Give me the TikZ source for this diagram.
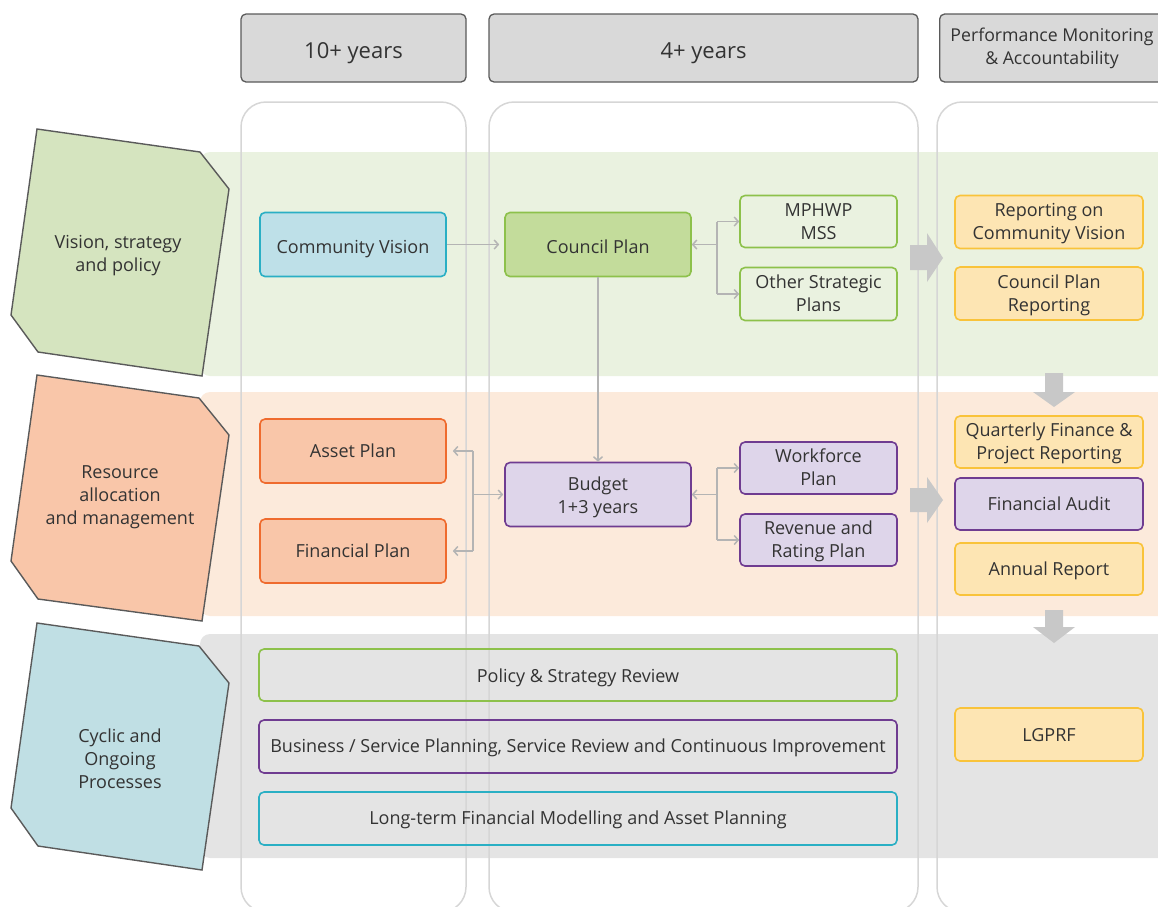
\documentclass[tikz,border=0pt]{standalone}
\usepackage{fontspec}
\setmainfont{Open Sans}
\usetikzlibrary{arrows.meta}
\definecolor{bandgreen}{HTML}{EAF2E0}
\definecolor{bandorange}{HTML}{FCEADB}
\definecolor{bandgray}{HTML}{E4E4E4}
\definecolor{hdrfill}{HTML}{D9D9D9}
\definecolor{hdrdraw}{HTML}{5A5A5A}
\definecolor{polygreen}{HTML}{D5E4BF}
\definecolor{polyorange}{HTML}{F9C6A9}
\definecolor{polyblue}{HTML}{C0DFE4}
\definecolor{cvfill}{HTML}{BEE0E8}
\definecolor{cvdraw}{HTML}{2AAFC4}
\definecolor{gfill}{HTML}{C3DC9B}
\definecolor{gdraw}{HTML}{8DC14B}
\definecolor{odraw}{HTML}{EF6B2E}
\definecolor{ofill}{HTML}{F9C6A9}
\definecolor{pdraw}{HTML}{6F3C91}
\definecolor{pfill}{HTML}{DED5EA}
\definecolor{ydraw}{HTML}{F9C33A}
\definecolor{yfill}{HTML}{FDE5B3}
\definecolor{coldraw}{HTML}{D6D6D6}
\definecolor{conn}{HTML}{B4B4B4}
\definecolor{bigarrow}{HTML}{C8C8C8}
\definecolor{txt}{HTML}{333333}
\tikzset{
  txtstyle/.style={text=txt, font=\fontsize{18}{23}\selectfont, align=center, inner sep=0pt},
  tshift/.style={execute at begin node={\rule[-5pt]{0pt}{#1}}},
  box/.style={txtstyle, rounded corners=5pt, line width=1.6pt, tshift=22.9pt},
  twoline/.style={tshift=45.5pt},
  hdr/.style={rounded corners=5pt, draw=hdrdraw, fill=hdrfill, line width=1.3pt, text=txt, align=center, inner sep=0pt},
  col/.style={draw=coldraw, line width=1.5pt, rounded corners=25pt},
  band/.style={rounded corners=10pt},
  lpoly/.style={draw=hdrdraw, line width=1.4pt},
  cn/.style={draw=conn, line width=1.5pt},
  cnarrow/.style={cn, -{Straight Barb[length=4pt,width=9pt,line width=1.5pt]}},
  fat/.style={fill=bigarrow, draw=none},
}
\begin{document}
\begin{tikzpicture}[x=1pt,y=-1pt]
\useasboundingbox (0,0) rectangle (1158,906);
\clip (0,0) rectangle (1158,906);
% bands
\fill[band, bandgreen] (200,152) rectangle (1175,376);
\fill[band, bandorange] (200,392) rectangle (1175,616);
\fill[band, bandgray] (200,634) rectangle (1175,858);
% columns
\draw[col] (241,102) rectangle (466,912);
\draw[col] (489,102) rectangle (918,912);
\draw[col] (937,102) rectangle (1180,912);
% headers
\node[hdr, minimum width=225pt, minimum height=68pt, font=\fontsize{22}{26}\selectfont, execute at begin node={\rule{0pt}{26pt}}] (h1) at (353.5,48) {10+ years};
\node[hdr, minimum width=429pt, minimum height=68pt, font=\fontsize{22}{26}\selectfont, execute at begin node={\rule{0pt}{26pt}}] (h2) at (703.5,48) {4+ years};
\node[hdr, minimum width=240pt, minimum height=68pt, anchor=west] (h3) at (939,48) {};
\node[txtstyle, font=\fontsize{17.7}{23}\selectfont] (h3t) at (1052,48.5) {Performance Monitoring\\\& Accountability};
% left polygons
\draw[lpoly, fill=polygreen] (37,129) -- (200,152) -- (229,189) -- (202,376) -- (38,352) -- (11,315) -- cycle;
\node[txtstyle] (lv) at (118,256) {Vision, strategy\\and policy};
\draw[lpoly, fill=polyorange] (37,375) -- (199,398) -- (229,435) -- (202,621) -- (38,599) -- (11,561) -- cycle;
\node[txtstyle] (lr) at (120,497) {Resource\\allocation\\and management};
\draw[lpoly, fill=polyblue] (37,623) -- (199,646) -- (229,683) -- (202,870) -- (38,846) -- (11,808) -- cycle;
\node[txtstyle] (lc) at (120,759) {Cyclic and\\Ongoing\\Processes};
% row 1
\node[box, tshift=27.9pt, draw=cvdraw, fill=cvfill, minimum width=186pt, minimum height=64pt] (cv) at (353,244.5) {Community Vision};
\node[box, tshift=27.9pt, draw=gdraw, fill=gfill, minimum width=186pt, minimum height=64pt] (cp) at (598,244.5) {Council Plan};
\node[box, twoline, draw=gdraw, fill=bandgreen, minimum width=157pt, minimum height=52pt] (mp) at (818.5,221.5) {MPHWP\\MSS};
\node[box, twoline, draw=gdraw, fill=bandgreen, minimum width=157pt, minimum height=53pt] (osp) at (818.5,294) {Other Strategic\\Plans};
\node[box, twoline, draw=ydraw, fill=yfill, minimum width=188pt, minimum height=53pt] (rcv) at (1049,222) {Reporting on\\Community Vision};
\node[box, twoline, draw=ydraw, fill=yfill, minimum width=188pt, minimum height=53pt] (cpr) at (1049,293.5) {Council Plan\\Reporting};
% row 2
\node[box, tshift=20.9pt, draw=odraw, fill=ofill, minimum width=186pt, minimum height=64pt] (ap) at (353,451) {Asset Plan};
\node[box, tshift=20.9pt, draw=odraw, fill=ofill, minimum width=186pt, minimum height=64pt] (fp) at (353,551) {Financial Plan};
\node[box, tshift=47.5pt, draw=pdraw, fill=pfill, minimum width=186pt, minimum height=64pt] (bud) at (598,494.5) {Budget\\1+3 years};
\node[box, twoline, draw=pdraw, fill=pfill, minimum width=157pt, minimum height=52pt] (wf) at (818.5,468) {Workforce\\Plan};
\node[box, twoline, draw=pdraw, fill=pfill, minimum width=157pt, minimum height=52pt] (rr) at (818.5,540) {Revenue and\\Rating Plan};
\node[box, twoline, draw=ydraw, fill=yfill, minimum width=188pt, minimum height=52pt] (qf) at (1049,442) {Quarterly Finance \&\\Project Reporting};
\node[box, draw=pdraw, fill=pfill, minimum width=188pt, minimum height=52pt] (fa) at (1049,504) {Financial Audit};
\node[box, draw=ydraw, fill=yfill, minimum width=188pt, minimum height=52pt] (ar) at (1049,569) {Annual Report};
% row 3
\node[box, tshift=24.9pt, draw=gdraw, minimum width=638pt, minimum height=52pt] (psr) at (578,675) {Policy \& Strategy Review};
\node[box, tshift=21.9pt, draw=pdraw, minimum width=638pt, minimum height=53pt] (bus) at (578,746.5) {Business / Service Planning, Service Review and Continuous Improvement};
\node[box, tshift=21.9pt, draw=cvdraw, minimum width=638pt, minimum height=53pt] (ltf) at (578,818.5) {Long-term Financial Modelling and Asset Planning};
\node[box, tshift=23.9pt, draw=ydraw, fill=yfill, minimum width=188pt, minimum height=53pt] (lg) at (1049,734.5) {LGPRF};
% connectors
\draw[cnarrow] (cv.east) -- ([xshift=-5pt]cp.west);
\coordinate (j1) at (717,244.5);
\draw[cnarrow] (j1) -- (cp.east);
\draw[cnarrow] (j1 |- mp.west) -- (mp.west);
\draw[cnarrow] (j1 |- osp.west) -- (osp.west);
\draw[cn] (j1 |- mp.west) -- (j1 |- osp.west);
\draw[cnarrow] (cp.south) -- (bud.north);
\coordinate (j2) at (473,494.5);
\draw[cnarrow] (j2) -- ([xshift=-1pt]bud.west);
\draw[cnarrow] (j2 |- ap.east) -- ([xshift=6pt]ap.east);
\draw[cnarrow] (j2 |- fp.east) -- ([xshift=6pt]fp.east);
\draw[cn] (j2 |- ap.east) -- (j2 |- fp.east);
\coordinate (j3) at (717,494.5);
\draw[cnarrow] (j3) -- (bud.east);
\draw[cnarrow] (j3 |- wf.west) -- (wf.west);
\draw[cnarrow] (j3 |- rr.west) -- (rr.west);
\draw[cn] (j3 |- wf.west) -- (j3 |- rr.west);
% big arrows
\fill[fat] (910,245) -- (927,245) -- (927,233) -- (943,258) -- (927,282) -- (927,270) -- (910,270) -- cycle;
\fill[fat] (910,488) -- (927,488) -- (927,477) -- (943,500) -- (927,523) -- (927,512) -- (910,512) -- cycle;
\fill[fat] (1045,373) -- (1063,373) -- (1063,392) -- (1075,392) -- (1054,407) -- (1033,392) -- (1045,392) -- cycle;
\fill[fat] (1045,610) -- (1063,610) -- (1063,627) -- (1075,627) -- (1054,643) -- (1033,627) -- (1045,627) -- cycle;
\end{tikzpicture}
\end{document}
